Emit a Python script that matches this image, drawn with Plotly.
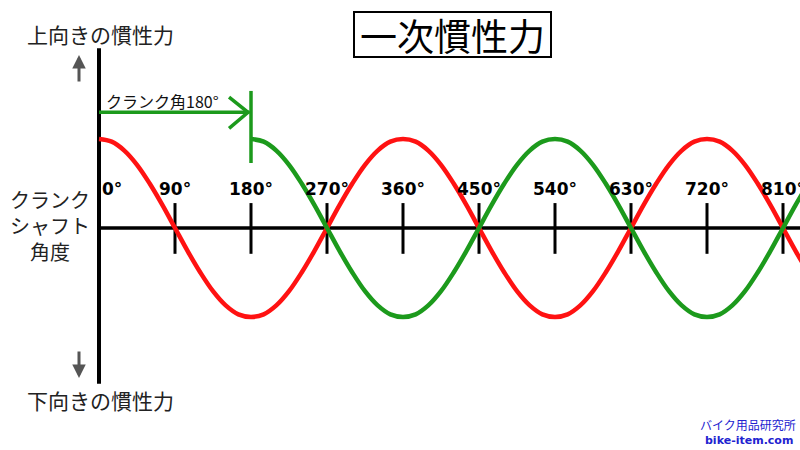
import plotly.graph_objects as go

# ---- data (every 15°) ----
red_angles = list(range(0, 856, 15))
red_values = [1.00, 0.97, 0.87, 0.71, 0.50, 0.26, 0.00, -0.26, -0.50, -0.71, -0.87, -0.97,
              -1.00, -0.97, -0.87, -0.71, -0.50, -0.26, 0.00, 0.26, 0.50, 0.71, 0.87, 0.97,
              1.00, 0.97, 0.87, 0.71, 0.50, 0.26, 0.00, -0.26, -0.50, -0.71, -0.87, -0.97,
              -1.00, -0.97, -0.87, -0.71, -0.50, -0.26, 0.00, 0.26, 0.50, 0.71, 0.87, 0.97,
              1.00, 0.97, 0.87, 0.71, 0.50, 0.26, 0.00, -0.26, -0.50, -0.71]
green_angles = list(range(180, 856, 15))
green_values = [1.00, 0.97, 0.87, 0.71, 0.50, 0.26, 0.00, -0.26, -0.50, -0.71, -0.87, -0.97,
                -1.00, -0.97, -0.87, -0.71, -0.50, -0.26, 0.00, 0.26, 0.50, 0.71, 0.87, 0.97,
                1.00, 0.97, 0.87, 0.71, 0.50, 0.26, 0.00, -0.26, -0.50, -0.71, -0.87, -0.97,
                -1.00, -0.97, -0.87, -0.71, -0.50, -0.26, 0.00, 0.26, 0.50, 0.71]
tick_angles = [90, 180, 270, 360, 450, 540, 630, 720, 810]
tick_labels = ["0°", "90°", "180°", "270°", "360°", "450°", "540°", "630°", "720°", "810°"]
label_angles = [0] + tick_angles

W, H = 800, 450
X0, DX = 99, 76 / 90      # pixel of 0°, pixels per degree
Y0, AMP = 228, 89          # pixel of zero line, pixels per unit


def px(x):
    return x / W


def py(y):
    return 1 - y / H


RED = "#ff1212"
GREEN = "#1c9a1c"
JP = "Noto Sans CJK JP"

fig = go.Figure()
fig.add_trace(go.Scatter(x=red_angles, y=red_values, mode="lines",
                         line=dict(color=RED, width=4.5, shape="spline", smoothing=1.0),
                         hoverinfo="skip"))
fig.add_trace(go.Scatter(x=green_angles, y=green_values, mode="lines",
                         line=dict(color=GREEN, width=4.5, shape="spline", smoothing=1.0),
                         hoverinfo="skip"))

shapes = []
# axes
shapes.append(dict(type="line", xref="x", yref="y", x0=0, x1=0, y0=2.02, y1=-1.75,
                   line=dict(color="black", width=4), layer="below"))
shapes.append(dict(type="line", xref="x", yref="y", x0=0, x1=860, y0=0, y1=0,
                   line=dict(color="black", width=3.5), layer="below"))
for a in tick_angles:
    shapes.append(dict(type="line", xref="x", yref="y", x0=a, x1=a, y0=-0.29, y1=0.28,
                       line=dict(color="black", width=3), layer="below"))
# green start marker at 180°
shapes.append(dict(type="line", xref="x", yref="y", x0=180, x1=180, y0=1.54, y1=0.73,
                   line=dict(color=GREEN, width=3.5)))
# green arrow 0 -> 180
shapes.append(dict(type="line", xref="x", yref="y", x0=0, x1=178, y0=1.30, y1=1.30,
                   line=dict(color=GREEN, width=3.5)))
shapes.append(dict(type="path", xref="x", yref="y",
                   path="M 154,1.47 L 176.5,1.30 L 154,1.12",
                   line=dict(color=GREEN, width=3.5)))

annotations = []
for a, t in zip(label_angles, tick_labels):
    annotations.append(dict(x=1.5 if a == 0 else a, y=0.44, xref="x", yref="y", text=t,
                            showarrow=False, xanchor="left" if a == 0 else "center",
                            yanchor="middle",
                            font=dict(family="DejaVu Sans", size=17, color="black", weight="bold")))

annotations += [
    dict(x=px(452.5), y=py(35), xref="paper", yref="paper", text="一次慣性力", showarrow=False,
         xanchor="center", yanchor="middle", bordercolor="black", borderwidth=2, borderpad=0,
         width=195, height=43,
         font=dict(family=JP, size=37, color="black", weight=400)),
    dict(x=px(100), y=py(34), xref="paper", yref="paper", text="上向きの慣性力", showarrow=False,
         xanchor="center", yanchor="middle", font=dict(family=JP, size=21, color="#222")),
    dict(x=px(100), y=py(400), xref="paper", yref="paper", text="下向きの慣性力", showarrow=False,
         xanchor="center", yanchor="middle", font=dict(family=JP, size=21, color="#222")),
    dict(x=px(50), y=py(225), xref="paper", yref="paper",
         text="クランク<br>シャフト<br>角度", showarrow=False, align="center",
         xanchor="center", yanchor="middle", font=dict(family=JP, size=20, color="#222")),
    dict(x=px(104), y=py(101), xref="paper", yref="paper", text="クランク角180°", showarrow=False,
         xanchor="left", yanchor="middle", font=dict(family=JP, size=16, color="#111")),
    # up / down arrows
    dict(x=px(79), y=py(55), xref="paper", yref="paper", ax=0, ay=28, text="", showarrow=True,
         arrowhead=2, arrowsize=0.9, arrowwidth=3, arrowcolor="#555"),
    dict(x=px(79), y=py(378), xref="paper", yref="paper", ax=0, ay=-28, text="", showarrow=True,
         arrowhead=2, arrowsize=0.9, arrowwidth=3, arrowcolor="#555"),
    # watermark
    dict(x=px(748), y=py(424), xref="paper", yref="paper", text="バイク用品研究所", showarrow=False,
         xanchor="center", yanchor="middle", font=dict(family=JP, size=12, color="#2222d0")),
    dict(x=px(749), y=py(440), xref="paper", yref="paper", text="bike-item.com", showarrow=False,
         xanchor="center", yanchor="middle",
         font=dict(family="DejaVu Sans", size=11, color="#2222d0", weight="bold")),
]

fig.update_layout(
    width=W, height=H, margin=dict(l=0, r=0, t=0, b=0),
    paper_bgcolor="white", plot_bgcolor="white", showlegend=False,
    xaxis=dict(range=[-X0 / DX, (W - X0) / DX], visible=False, fixedrange=True),
    yaxis=dict(range=[-(H - Y0) / AMP, Y0 / AMP], visible=False, fixedrange=True),
    shapes=shapes, annotations=annotations,
)
fig.write_html("out.html", config={"displayModeBar": False},
               post_script="document.body.style.margin='0';document.body.style.overflow='hidden';")
